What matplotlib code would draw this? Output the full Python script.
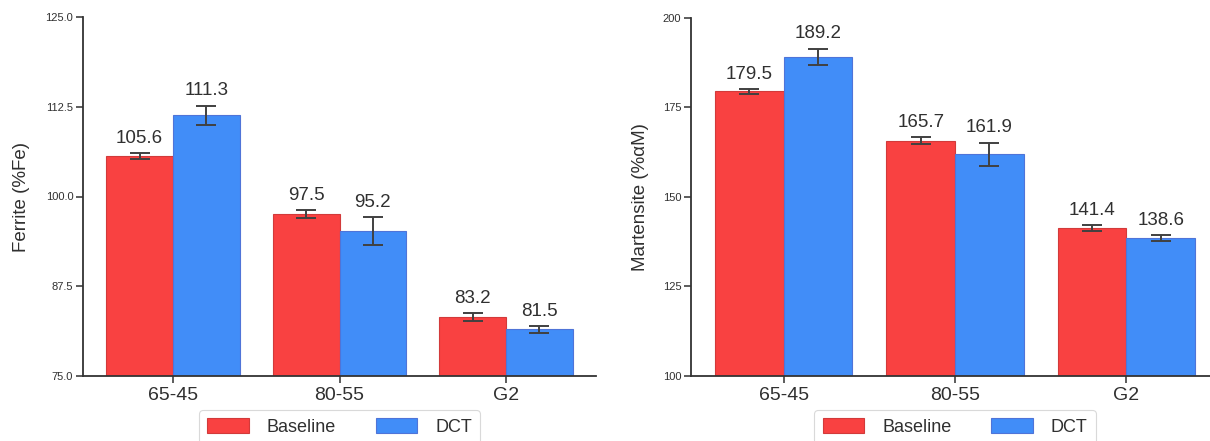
import matplotlib
matplotlib.use("Agg")
import matplotlib.pyplot as plt
from matplotlib.ticker import FormatStrFormatter
import numpy as np

plt.rcParams['font.family'] = ['Liberation Sans', 'DejaVu Sans']

categories = ["65-45", "80-55", "G2"]
series_names = ["Baseline", "DCT"]

ferrite_baseline = [105.6, 97.5, 83.2]
ferrite_dct = [111.3, 95.2, 81.5]
ferrite_baseline_err = [0.42, 0.56, 0.56]
ferrite_dct_err = [1.35, 1.9, 0.46]

martensite_baseline = [179.5, 165.7, 141.4]
martensite_dct = [189.2, 161.9, 138.6]
martensite_baseline_err = [0.7, 1.0, 0.8]
martensite_dct_err = [2.24, 3.3, 0.84]

ferrite_ticks = [75.0, 87.5, 100.0, 112.5, 125.0]
martensite_ticks = [100, 125, 150, 175, 200]

RED = "#F94141"
BLUE = "#418DF8"
TEXT = "#303030"

W, H = 1210, 441
fig = plt.figure(figsize=(W / 100, H / 100), dpi=100)

ax1 = fig.add_axes([83 / W, (H - 376) / H, 513 / W, 359 / H])
ax2 = fig.add_axes([691 / W, (H - 376) / H, 528 / W, 358 / H])


def draw_panel(ax, base, dct, base_err, dct_err, ticks, fmt, ylabel, labelpad):
    x = np.arange(len(categories))
    width = 0.4
    err_kw = dict(ecolor="#404040", elinewidth=1.4, capsize=7, capthick=1.4)
    ax.bar(x - width / 2, base, width, yerr=base_err, color=RED,
           edgecolor="#D23A3A", linewidth=0.8, label=series_names[0],
           error_kw=err_kw)
    ax.bar(x + width / 2, dct, width, yerr=dct_err, color=BLUE,
           edgecolor="#4F74D8", linewidth=0.8, label=series_names[1],
           error_kw=err_kw)
    for xs, vals, errs in ((x - width / 2, base, base_err), (x + width / 2, dct, dct_err)):
        for xi, v, e in zip(xs, vals, errs):
            ax.annotate(f"{v:.1f}", (xi, v + e), xytext=(0, 4.5),
                        textcoords="offset points", ha="center", va="bottom",
                        fontsize=13.5, color=TEXT)
    ax.set_ylim(ticks[0], ticks[-1])
    ax.set_yticks(ticks)
    ax.yaxis.set_major_formatter(FormatStrFormatter(fmt))
    ax.set_xticks(x)
    ax.set_xticklabels(categories)
    ax.tick_params(axis="y", labelsize=8, colors=TEXT, length=5, width=1.1, pad=2)
    ax.tick_params(axis="x", labelsize=14, colors=TEXT, length=5, width=1.1, pad=3)
    for s in ("top", "right"):
        ax.spines[s].set_visible(False)
    for s in ("left", "bottom"):
        ax.spines[s].set_color("#333333")
        ax.spines[s].set_linewidth(1.3)
    ax.set_ylabel(ylabel, fontsize=13.5, color=TEXT, labelpad=labelpad)
    leg = ax.legend(loc="upper center", bbox_to_anchor=(0.5, -0.07), ncol=2,
                    fontsize=13, frameon=True, handlelength=2.3,
                    handleheight=0.85, handletextpad=1.0, columnspacing=2.2,
                    borderpad=0.45, fancybox=True)
    leg.get_frame().set_edgecolor("#D0D0D0")
    leg.get_frame().set_linewidth(0.8)
    for t in leg.get_texts():
        t.set_color(TEXT)


draw_panel(ax1, ferrite_baseline, ferrite_dct, ferrite_baseline_err, ferrite_dct_err,
           ferrite_ticks, "%.1f", "Ferrite (%Fe)", 11)
draw_panel(ax2, martensite_baseline, martensite_dct, martensite_baseline_err,
           martensite_dct_err, martensite_ticks, "%d", "Martensite (%αM)", 10)

fig.savefig("out.png", dpi=100)
